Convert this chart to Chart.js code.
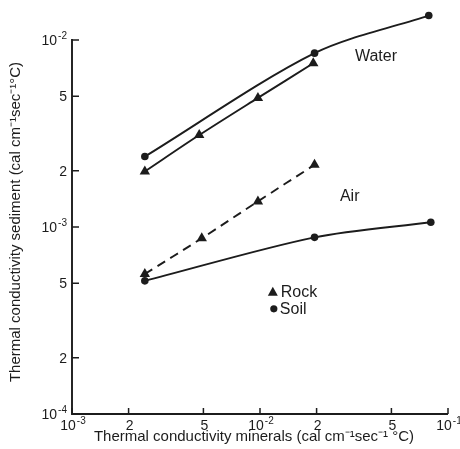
<!DOCTYPE html>
<html>
<head>
<meta charset="utf-8">
<script src="https://cdn.jsdelivr.net/npm/chart.js@4.4.1/dist/chart.umd.min.js"></script>
<style>
  html, body { margin: 0; padding: 0; background: #fff; }
  #wrap { width: 460px; height: 449px; }
</style>
</head>
<body>
<div id="wrap"><canvas id="condChart" width="460" height="449"></canvas></div>
<script>
////Measured conductivities (cal cm-1 sec-1 °C)
const waterSoilX = [2.44e-3, 1.95e-2, 7.9e-2];
const waterSoilY = [2.38e-3, 8.5e-3, 1.35e-2];
const waterRockX = [2.44e-3, 4.75e-3, 9.75e-3, 1.92e-2];
const waterRockY = [1.98e-3, 3.1e-3, 4.9e-3, 7.5e-3];
const airRockX = [2.44e-3, 4.9e-3, 9.75e-3, 1.95e-2];
const airRockY = [5.6e-4, 8.7e-4, 1.37e-3, 2.15e-3];
const airSoilX = [2.44e-3, 1.95e-2, 8.1e-2];
const airSoilY = [5.15e-4, 8.8e-4, 1.06e-3];

////Axis ticks and their labels ("^" marks an exponent)
const xTicks = [1e-3, 2e-3, 5e-3, 1e-2, 2e-2, 5e-2, 1e-1];
const xTickLabels = ["10^-3", "2", "5", "10^-2", "2", "5", "10^-1"];
const yTicks = [1e-4, 2e-4, 5e-4, 1e-3, 2e-3, 5e-3, 1e-2];
const yTickLabels = ["10^-4", "2", "5", "10^-3", "2", "5", "10^-2"];

const INK = "#1c1c1c";
const FONT = "'Liberation Sans', Arial, sans-serif";

//zip x and y arrays into chart points
function pts(xs, ys) {
    return xs.map((x, i) => ({ x: x, y: ys[i] }));
}

function series(xs, ys, style, dashed) {
    return {
        data: pts(xs, ys),
        borderColor: INK,
        backgroundColor: INK,
        borderWidth: 1.9,
        borderDash: dashed ? [9, 6] : [],
        pointStyle: style,
        pointRadius: style === "triangle" ? 6 : 3.8,
        pointBorderWidth: 0,
        tension: 0.3,
        fill: false
    };
}

//tick label with an optional raised exponent
function drawTickLabel(ctx, label, x, y, align) {
    const parts = label.split("^");
    ctx.font = "14px " + FONT;
    const wBase = ctx.measureText(parts[0]).width;
    let wExp = 0;
    if (parts[1]) {
        ctx.font = "10px " + FONT;
        wExp = ctx.measureText(parts[1]).width + 1;
    }
    const total = wBase + wExp;
    let start = align === "right" ? x - total : x - total / 2;
    ctx.textAlign = "left";
    ctx.textBaseline = "middle";
    ctx.font = "14px " + FONT;
    ctx.fillText(parts[0], start, y);
    if (parts[1]) {
        ctx.font = "10px " + FONT;
        ctx.fillText(parts[1], start + wBase + 1, y - 5);
    }
}

//draws axis lines, inward tick marks, tick labels, titles and in-plot labels
const decorations = {
    id: "decorations",
    afterDraw(chart) {
        const ctx = chart.ctx;
        const xs = chart.scales.x, ys = chart.scales.y;
        const area = chart.chartArea;
        const yTop = ys.getPixelForValue(yTicks[yTicks.length - 1]);
        ctx.save();
        ctx.strokeStyle = INK;
        ctx.fillStyle = INK;
        ctx.lineWidth = 1.9;
        ctx.beginPath();
        ctx.moveTo(area.left, yTop - 1);
        ctx.lineTo(area.left, area.bottom);
        ctx.lineTo(area.right, area.bottom);
        ctx.stroke();
        ctx.lineWidth = 1.5;
        ctx.beginPath();
        for (const v of yTicks) {
            const p = ys.getPixelForValue(v);
            ctx.moveTo(area.left, p);
            ctx.lineTo(area.left + 7, p);
        }
        for (const v of xTicks) {
            const p = xs.getPixelForValue(v);
            ctx.moveTo(p, area.bottom);
            ctx.lineTo(p, area.bottom - 6);
        }
        ctx.stroke();

        yTicks.forEach((v, i) => {
            drawTickLabel(ctx, yTickLabels[i], area.left - 5, ys.getPixelForValue(v) + 1, "right");
        });
        xTicks.forEach((v, i) => {
            drawTickLabel(ctx, xTickLabels[i], xs.getPixelForValue(v) + 1, area.bottom + 12, "center");
        });

        ctx.textAlign = "center";
        ctx.textBaseline = "middle";
        ctx.font = "15px " + FONT;
        ctx.fillText("Thermal conductivity minerals (cal cm\u207B\u00B9sec\u207B\u00B9 \u00B0C)", 254, 437);
        ctx.save();
        ctx.translate(16, 222);
        ctx.rotate(-Math.PI / 2);
        ctx.fillText("Thermal conductivity sediment (cal cm\u207B\u00B9sec\u207B\u00B9\u00B0C)", 0, 0);
        ctx.restore();

        //curve names
        ctx.font = "16px " + FONT;
        ctx.fillText("Water", xs.getPixelForValue(4.14e-2), ys.getPixelForValue(8.1e-3));
        ctx.fillText("Air", xs.getPixelForValue(3.0e-2), ys.getPixelForValue(1.46e-3));

        //symbol key
        const kx = xs.getPixelForValue(1.17e-2);
        const rockY = ys.getPixelForValue(4.5e-4);
        const soilY = ys.getPixelForValue(3.65e-4);
        ctx.beginPath();
        ctx.moveTo(kx, rockY - 5);
        ctx.lineTo(kx + 5, rockY + 4);
        ctx.lineTo(kx - 5, rockY + 4);
        ctx.closePath();
        ctx.fill();
        ctx.beginPath();
        ctx.arc(kx + 1, soilY, 3.6, 0, Math.PI * 2);
        ctx.fill();
        ctx.textAlign = "left";
        ctx.font = "16px " + FONT;
        ctx.fillText("Rock", kx + 8, rockY + 1);
        ctx.fillText("Soil", kx + 7, soilY + 1);
        ctx.restore();
    }
};

const ctx = document.getElementById("condChart").getContext("2d");
const condChart = new Chart(ctx, {
    type: "line",
    data: {
        datasets: [
            series(waterSoilX, waterSoilY, "circle", false),
            series(waterRockX, waterRockY, "triangle", false),
            series(airRockX, airRockY, "triangle", true),
            series(airSoilX, airSoilY, "circle", false)
        ]
    },
    options: {
        responsive: false,
        animation: false,
        layout: { padding: { top: 7, right: 12, left: 0, bottom: 0 } },
        plugins: { legend: { display: false }, tooltip: { enabled: false } },
        scales: {
            x: {
                type: "logarithmic",
                min: 1e-3,
                max: 1e-1,
                border: { display: false },
                grid: { display: false, drawTicks: false },
                afterBuildTicks: (scale) => { scale.ticks = xTicks.map(v => ({ value: v })); },
                afterFit: (scale) => {
                    scale.height = 35;
                    scale.paddingLeft = 0;
                    scale.paddingRight = 0;
                },
                ticks: { display: false }
            },
            y: {
                type: "logarithmic",
                min: 1e-4,
                max: 1.5e-2,
                border: { display: false },
                grid: { display: false, drawTicks: false },
                afterBuildTicks: (scale) => { scale.ticks = yTicks.map(v => ({ value: v })); },
                afterFit: (scale) => {
                    scale.width = 72;
                    scale.paddingTop = 0;
                    scale.paddingBottom = 0;
                },
                ticks: { display: false }
            }
        }
    },
    plugins: [decorations]
});
</script>
</body>
</html>
